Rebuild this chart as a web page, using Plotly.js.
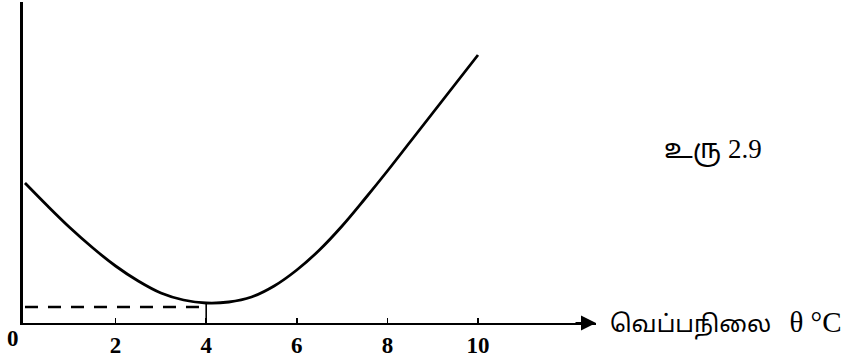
<!DOCTYPE html>
<html>
<head>
<meta charset="utf-8">
<script src="https://cdn.plot.ly/plotly-3.0.1.min.js"></script>
<style>html,body{margin:0;padding:0;background:#fff;}#chart{width:843px;height:360px;}</style>
</head>
<body>
<div id="chart"></div>
<script>
// Temperature (°C) vs. volume (arbitrary units)
const temperature = [0, 0.5, 1, 1.5, 2, 2.5, 3, 3.5, 4, 4.5, 5, 5.5, 6, 6.5, 7, 7.5, 8, 8.5, 9, 9.5, 10];
const volume      = [140, 117, 95, 75, 57, 42, 30, 23, 20, 21, 26, 37, 53, 73, 97, 124, 152, 181, 210, 239, 268];
const minTemp = [0, 4];
const minLevel = [16, 16];
const dropX = [4, 4];
const dropY = [0, 20];
const tickVals = [0, 2, 4, 6, 8, 10];
const tickText = ['0', '2', '4', '6', '8', '10'];
const xTitleWord = 'வெப்பநிலை';
const xTitleUnit = 'θ °C';
const figTitle = 'உரு 2.9';

const traces = [
  {x: temperature, y: volume, mode: 'lines', line: {color: '#000', width: 2.8, shape: 'spline', smoothing: 1}, hoverinfo: 'skip'},
  {x: minTemp, y: minLevel, mode: 'lines', line: {color: '#000', width: 2.4, dash: '13px,10px'}, hoverinfo: 'skip'},
  {x: dropX, y: dropY, mode: 'lines', line: {color: '#000', width: 1.6}, hoverinfo: 'skip'}
];

const tickFont = {family: 'Liberation Serif, serif', size: 23, color: '#000', weight: 'bold'};
const tamilFamily = 'Liberation Serif, Noto Sans Tamil, Lohit Tamil, Latha, serif';

const pw = 843 - 23 - 247, ph = 360 - 2 - 37;
const layout = {
  width: 843, height: 360,
  margin: {l: 23, r: 247, t: 2, b: 37},
  paper_bgcolor: '#fff', plot_bgcolor: '#fff',
  showlegend: false,
  xaxis: {
    range: [-0.044, 12.605], showgrid: false, zeroline: false,
    showline: true, linecolor: '#000', linewidth: 2,
    tickvals: tickVals.slice(1), ticktext: tickText.slice(1),
    ticks: 'inside', ticklen: 5, tickwidth: 1.5, tickcolor: '#000',
    tickfont: tickFont
  },
  yaxis: {
    range: [0, 321], showgrid: false, zeroline: false,
    showline: true, linecolor: '#000', linewidth: 2.8,
    showticklabels: false, ticks: ''
  },
  annotations: [
    {x: tickVals[0], y: 0, xref: 'x', yref: 'y', text: tickText[0], showarrow: false,
     xanchor: 'center', yanchor: 'top', xshift: -12, yshift: -1, font: tickFont},
    {x: 1, y: 0, xref: 'paper', yref: 'y', ax: -22, ay: 0, text: '', showarrow: true,
     arrowhead: 2, arrowsize: 1.5, arrowwidth: 2, arrowcolor: '#000'},
    {x: (608 - 23) / pw, y: 0, xref: 'paper', yref: 'paper',
     text: xTitleWord + '   <span style="font-size:29px">' + xTitleUnit + '</span>',
     showarrow: false, xanchor: 'left', yanchor: 'middle',
     font: {family: tamilFamily, size: 24, color: '#000'}},
    {x: (713 - 23) / pw, y: (323 - 150) / ph, xref: 'paper', yref: 'paper',
     text: figTitle, showarrow: false, xanchor: 'center', yanchor: 'middle',
     font: {family: tamilFamily, size: 27, color: '#000'}}
  ]
};

Plotly.newPlot('chart', traces, layout, {displayModeBar: false, staticPlot: true});
</script>
</body>
</html>
